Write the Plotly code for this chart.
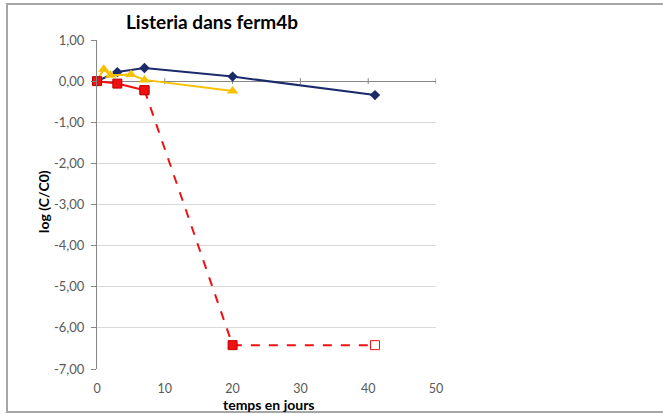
import plotly.graph_objects as go

# Data
blue_x = [0, 3, 7, 20, 41]
blue_y = [0.0, 0.22, 0.32, 0.11, -0.34]

yellow_x = [0, 1, 2, 5, 7, 20]
yellow_y = [0.0, 0.29, 0.14, 0.16, 0.03, -0.24]

red_x = [0, 3, 7]
red_y = [0.0, -0.06, -0.22]

red_dash_x = [7, 20, 41]
red_dash_y = [-0.22, -6.42, -6.42]

x_ticks = [0, 10, 20, 30, 40, 50]
y_ticks = [1, 0, -1, -2, -3, -4, -5, -6, -7]
y_tick_labels = ["1,00", "0,00", "-1,00", "-2,00", "-3,00",
                 "-4,00", "-5,00", "-6,00", "-7,00"]

FONT = "Lato, 'Open Sans', sans-serif"
NAVY = "#1B2A6B"
GOLD = "#F7C100"
RED = "#F01010"

W, H = 663, 414
L, R, T, B = 97, 227, 40, 45
PW, PH = W - L - R, H - T - B

fig = go.Figure()

fig.add_trace(go.Scatter(
    x=blue_x, y=blue_y, mode="lines+markers",
    line=dict(color=NAVY, width=2),
    marker=dict(symbol="diamond", size=8, color=NAVY),
    showlegend=False, cliponaxis=False))

fig.add_trace(go.Scatter(
    x=yellow_x, y=yellow_y, mode="lines+markers",
    line=dict(color=GOLD, width=2),
    marker=dict(symbol="triangle-up", size=10, color=GOLD),
    showlegend=False, cliponaxis=False))

fig.add_trace(go.Scatter(
    x=red_dash_x, y=red_dash_y, mode="lines+markers",
    line=dict(color=RED, width=2, dash="dash"),
    marker=dict(symbol="square", size=9,
                color=[RED, RED, "white"],
                line=dict(color=["#C00000", "#C00000", RED], width=1)),
    showlegend=False, cliponaxis=False))

fig.add_trace(go.Scatter(
    x=red_x, y=red_y, mode="lines+markers",
    line=dict(color=RED, width=2),
    marker=dict(symbol="square", size=9, color=RED,
                line=dict(color="#C00000", width=1)),
    showlegend=False, cliponaxis=False))

# small tick marks on the horizontal axis line (at y=0)
shapes = []
for t in x_ticks:
    shapes.append(dict(type="line", xref="x", yref="y", x0=t, x1=t,
                       ysizemode="pixel", yanchor=0, y0=-3, y1=3,
                       line=dict(color="#868686", width=1), layer="below"))
# outer chart border
shapes.append(dict(type="rect", xref="paper", yref="paper",
                   x0=(7 - L) / PW, x1=(670 - L) / PW,
                   y0=(H - B - 412) / PH, y1=(H - B - 4) / PH,
                   line=dict(color="#A6A6A6", width=2), fillcolor="rgba(0,0,0,0)"))

annotations = [
    dict(text="<b>temps en jours</b>", xref="paper", yref="paper",
         x=(268 - L) / PW, y=(H - B - 405) / PH, xanchor="center", yanchor="middle",
         showarrow=False, font=dict(family=FONT, size=14, color="black")),
    dict(text="<b>log (C/C0)</b>", xref="paper", yref="paper",
         x=(43 - L) / PW, y=(H - B - 202) / PH, xanchor="center", yanchor="middle",
         textangle=-90, showarrow=False,
         font=dict(family=FONT, size=14, color="black")),
]

fig.update_layout(
    width=W, height=H,
    margin=dict(l=L, r=R, t=T, b=B, autoexpand=False),
    paper_bgcolor="white", plot_bgcolor="white",
    font=dict(family=FONT, color="#595959", size=13),
    title=dict(text="<b>Listeria dans ferm4b</b>", x=212 / W, xanchor="center",
               y=1 - 22 / H, yanchor="middle",
               font=dict(family=FONT, size=19, color="black")),
    xaxis=dict(range=[0, 50], tickvals=x_ticks, showgrid=False,
               showline=False, zeroline=False, ticks="", automargin=False,
               ticklabelstandoff=10,
               tickfont=dict(size=12.5, color="#595959")),
    yaxis=dict(range=[-7, 1], tickvals=y_ticks, ticktext=y_tick_labels,
               showgrid=True, gridcolor="#D9D9D9", gridwidth=1,
               showline=True, linecolor="#868686", linewidth=1,
               ticks="outside", ticklen=5, tickcolor="#868686",
               ticklabelstandoff=4, automargin=False,
               zeroline=True, zerolinecolor="#868686", zerolinewidth=1,
               tickfont=dict(size=13, color="#595959")),
    shapes=shapes,
    annotations=annotations,
)

fig.write_html("out.html", config={"displayModeBar": False},
               post_script="document.body.style.margin='0';document.body.style.padding='0';")
